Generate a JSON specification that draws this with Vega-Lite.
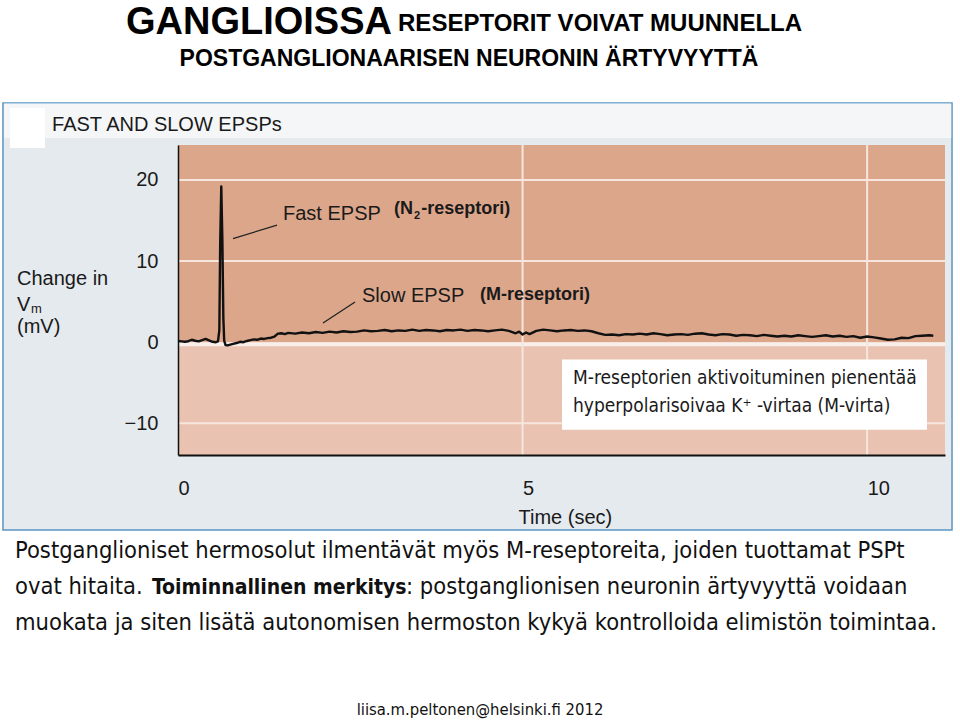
{
  "$schema": "https://vega.github.io/schema/vega-lite/v6.json",
  "width": 767,
  "height": 310,
  "autosize": {"type": "none"},
  "padding": {"left": 178, "top": 145, "right": 15, "bottom": 265},
  "background": "white",
  "config": {"view": {"stroke": null}},
  "encoding": {
    "x": {"field": "t", "type": "quantitative", "scale": {"domain": [0, 11.13], "nice": false, "zero": false},
      "axis": {"values": [0, 5, 10], "labelAlign": "left", "labelBaseline": "top", "labelPadding": 23, "ticks": false, "tickSize": 0,
        "domainColor": "#111", "domainWidth": 2, "labelFont": "Liberation Sans, Arial, sans-serif", "labelFontSize": 20, "labelColor": "#1a1a1a",
        "grid": false, "title": "Time (sec)", "titleFont": "Liberation Sans, Arial, sans-serif", "titleFontSize": 20, "titleFontWeight": "normal", "titleColor": "#1a1a1a",
        "titleX": 340, "titleY": 52, "titleAlign": "left", "titleBaseline": "top", "zindex": 1}},
    "y": {"field": "v", "type": "quantitative", "scale": {"domain": [-13.9, 24.3], "nice": false, "zero": false},
      "axis": {"values": [20, 10, 0, -10], "labelPadding": 20, "ticks": false, "tickSize": 0, "domainColor": "#111", "domainWidth": 1.5,
        "labelFont": "Liberation Sans, Arial, sans-serif", "labelFontSize": 20, "labelColor": "#1a1a1a", "grid": false, "title": null, "zindex": 1}}
  },
  "layer": [
    {
      "data": {"values": [{"t": -2.54, "t2": 11.232, "v": 29.48, "v2": -23.14}]},
      "mark": {"type": "rect", "fill": "#e5eaee", "stroke": "#5a96c3", "strokeWidth": 1.5},
      "encoding": {"x2": {"field": "t2"}, "y2": {"field": "v2"}}
    },
    {
      "data": {"values": [{"t": -2.525, "t2": 11.22, "v": 29.4, "v2": 25.16}]},
      "mark": {"type": "rect", "fill": "#f4f6f8"},
      "encoding": {"x2": {"field": "t2"}, "y2": {"field": "v2"}}
    },
    {
      "data": {"values": [{"t": -2.438, "t2": -1.93, "v": 28.86, "v2": 23.93}]},
      "mark": {"type": "rect", "fill": "#ffffff"},
      "encoding": {"x2": {"field": "t2"}, "y2": {"field": "v2"}}
    },
    {
      "data": {"values": [
        {"zone": "above", "t": 0, "t2": 11.13, "v": 24.3, "v2": 0},
        {"zone": "below", "t": 0, "t2": 11.13, "v": 0, "v2": -13.9}
      ]},
      "mark": {"type": "rect"},
      "encoding": {"x2": {"field": "t2"}, "y2": {"field": "v2"},
        "color": {"field": "zone", "type": "nominal", "scale": {"domain": ["above", "below"], "range": ["#dca68b", "#e9c2b1"]}, "legend": null}}
    },
    {
      "data": {"values": [{"t": 0, "t2": 11.13, "v": 20}, {"t": 0, "t2": 11.13, "v": 10}, {"t": 0, "t2": 11.13, "v": -10}]},
      "mark": {"type": "rule", "color": "#f6e6de", "strokeWidth": 2},
      "encoding": {"x2": {"field": "t2"}}
    },
    {
      "data": {"values": [{"t": 0, "t2": 11.13, "v": -0.25}]},
      "mark": {"type": "rule", "color": "#f8eeea", "strokeWidth": 4},
      "encoding": {"x2": {"field": "t2"}}
    },
    {
      "data": {"values": [{"t": 5, "v": -13.9, "v2": 24.3}, {"t": 10, "v": -13.9, "v2": 24.3}]},
      "mark": {"type": "rule", "color": "#f6e6de", "strokeWidth": 2},
      "encoding": {"y2": {"field": "v2"}}
    },
    {
      "data": {"values": [
        {"t": 0.00, "v": 0.15}, {"t": 0.05, "v": 0.10}, {"t": 0.10, "v": 0.05}, {"t": 0.15, "v": 0.12}, {"t": 0.20, "v": 0.30},
        {"t": 0.25, "v": 0.18}, {"t": 0.30, "v": 0.10}, {"t": 0.35, "v": 0.25}, {"t": 0.40, "v": 0.40}, {"t": 0.45, "v": 0.22},
        {"t": 0.50, "v": 0.05}, {"t": 0.55, "v": 0.00}, {"t": 0.58, "v": 0.10}, {"t": 0.60, "v": 1.5}, {"t": 0.612, "v": 12.0},
        {"t": 0.628, "v": 19.2}, {"t": 0.644, "v": 12.5}, {"t": 0.658, "v": 3.0}, {"t": 0.67, "v": 0.2}, {"t": 0.69, "v": -0.35},
        {"t": 0.72, "v": -0.40}, {"t": 0.76, "v": -0.30}, {"t": 0.80, "v": -0.20}, {"t": 0.85, "v": -0.10}, {"t": 0.90, "v": 0.05},
        {"t": 0.95, "v": 0.00}, {"t": 1.00, "v": 0.15}, {"t": 1.05, "v": 0.25}, {"t": 1.10, "v": 0.35}, {"t": 1.15, "v": 0.30},
        {"t": 1.20, "v": 0.45}, {"t": 1.25, "v": 0.40}, {"t": 1.30, "v": 0.50}, {"t": 1.35, "v": 0.55}, {"t": 1.40, "v": 0.70},
        {"t": 1.45, "v": 1.05}, {"t": 1.50, "v": 1.10}, {"t": 1.55, "v": 1.00}, {"t": 1.60, "v": 1.15}, {"t": 1.70, "v": 1.05},
        {"t": 1.80, "v": 1.20}, {"t": 1.90, "v": 1.10}, {"t": 2.00, "v": 1.25}, {"t": 2.10, "v": 1.15}, {"t": 2.20, "v": 1.30},
        {"t": 2.30, "v": 1.20}, {"t": 2.40, "v": 1.35}, {"t": 2.50, "v": 1.25}, {"t": 2.60, "v": 1.30}, {"t": 2.70, "v": 1.45},
        {"t": 2.80, "v": 1.35}, {"t": 2.90, "v": 1.40}, {"t": 3.00, "v": 1.50}, {"t": 3.10, "v": 1.35}, {"t": 3.20, "v": 1.45},
        {"t": 3.30, "v": 1.40}, {"t": 3.40, "v": 1.55}, {"t": 3.50, "v": 1.40}, {"t": 3.60, "v": 1.50}, {"t": 3.70, "v": 1.45},
        {"t": 3.80, "v": 1.35}, {"t": 3.90, "v": 1.50}, {"t": 4.00, "v": 1.45}, {"t": 4.10, "v": 1.55}, {"t": 4.20, "v": 1.40},
        {"t": 4.30, "v": 1.50}, {"t": 4.40, "v": 1.45}, {"t": 4.50, "v": 1.35}, {"t": 4.60, "v": 1.45}, {"t": 4.70, "v": 1.55},
        {"t": 4.80, "v": 1.40}, {"t": 4.90, "v": 1.10}, {"t": 4.95, "v": 1.30}, {"t": 5.00, "v": 0.95}, {"t": 5.05, "v": 1.20},
        {"t": 5.10, "v": 1.00}, {"t": 5.20, "v": 1.40}, {"t": 5.30, "v": 1.55}, {"t": 5.40, "v": 1.45}, {"t": 5.50, "v": 1.35},
        {"t": 5.60, "v": 1.45}, {"t": 5.70, "v": 1.50}, {"t": 5.80, "v": 1.40}, {"t": 5.90, "v": 1.45}, {"t": 6.00, "v": 1.35},
        {"t": 6.10, "v": 1.10}, {"t": 6.20, "v": 0.90}, {"t": 6.30, "v": 0.95}, {"t": 6.40, "v": 0.85}, {"t": 6.50, "v": 1.00},
        {"t": 6.60, "v": 0.95}, {"t": 6.70, "v": 1.05}, {"t": 6.80, "v": 0.95}, {"t": 6.90, "v": 1.10}, {"t": 7.00, "v": 1.00},
        {"t": 7.10, "v": 0.85}, {"t": 7.20, "v": 0.95}, {"t": 7.30, "v": 1.00}, {"t": 7.40, "v": 0.90}, {"t": 7.50, "v": 1.05},
        {"t": 7.60, "v": 1.10}, {"t": 7.70, "v": 0.95}, {"t": 7.80, "v": 0.85}, {"t": 7.90, "v": 1.00}, {"t": 8.00, "v": 0.95},
        {"t": 8.10, "v": 0.80}, {"t": 8.20, "v": 0.90}, {"t": 8.30, "v": 0.85}, {"t": 8.40, "v": 0.75}, {"t": 8.50, "v": 0.90},
        {"t": 8.60, "v": 0.80}, {"t": 8.70, "v": 0.70}, {"t": 8.80, "v": 0.80}, {"t": 8.90, "v": 0.70}, {"t": 9.00, "v": 0.85},
        {"t": 9.10, "v": 0.75}, {"t": 9.20, "v": 0.65}, {"t": 9.30, "v": 0.75}, {"t": 9.40, "v": 0.85}, {"t": 9.50, "v": 0.70},
        {"t": 9.60, "v": 0.80}, {"t": 9.70, "v": 0.65}, {"t": 9.80, "v": 0.75}, {"t": 9.90, "v": 0.55}, {"t": 10.00, "v": 0.70},
        {"t": 10.10, "v": 0.60}, {"t": 10.20, "v": 0.45}, {"t": 10.30, "v": 0.30}, {"t": 10.40, "v": 0.35}, {"t": 10.50, "v": 0.55},
        {"t": 10.60, "v": 0.50}, {"t": 10.70, "v": 0.75}, {"t": 10.80, "v": 0.80}, {"t": 10.90, "v": 0.85}, {"t": 10.96, "v": 0.80}
      ]},
      "mark": {"type": "line", "color": "#111111", "strokeWidth": 2.4, "strokeJoin": "round"}
    },
    {
      "data": {"values": [
        {"t": 0.798, "v": 12.75, "t2": 1.437, "v2": 14.44},
        {"t": 2.104, "v": 2.37, "t2": 2.569, "v2": 4.95}
      ]},
      "mark": {"type": "rule", "color": "#222", "strokeWidth": 1.3},
      "encoding": {"x2": {"field": "t2"}, "y2": {"field": "v2"}}
    },
    {
      "data": {"values": [
        {"label": "Fast EPSP", "t": 1.524, "v": 15.06},
        {"label": "Slow EPSP", "t": 2.670, "v": 4.95},
        {"label": "FAST AND SLOW EPSPs", "t": -1.828, "v": 26.03},
        {"label": "Change in", "t": -2.336, "v": 7.05},
        {"label": "V", "t": -2.336, "v": 3.84},
        {"label": "(mV)", "t": -2.336, "v": 1.15}
      ]},
      "mark": {"type": "text", "align": "left", "baseline": "alphabetic", "font": "Liberation Sans, Arial, sans-serif", "fontSize": 20, "color": "#1a1a1a"},
      "encoding": {"text": {"field": "label"}}
    },
    {
      "data": {"values": [
        {"label": "m", "t": -2.133, "v": 3.55}
      ]},
      "mark": {"type": "text", "align": "left", "baseline": "alphabetic", "font": "Liberation Sans, Arial, sans-serif", "fontSize": 13, "color": "#1a1a1a"},
      "encoding": {"text": {"field": "label"}}
    },
    {
      "data": {"values": [
        {"label": "(N", "t": 3.134, "v": 15.80},
        {"label": "-reseptori)", "t": 3.53, "v": 15.80},
        {"label": "(M-reseptori)", "t": 4.383, "v": 5.20}
      ]},
      "mark": {"type": "text", "align": "left", "baseline": "alphabetic", "font": "Liberation Sans, Arial, sans-serif", "fontSize": 18, "fontWeight": "bold", "color": "#1a1a1a"},
      "encoding": {"text": {"field": "label"}}
    },
    {
      "data": {"values": [
        {"label": "2", "t": 3.425, "v": 15.2}
      ]},
      "mark": {"type": "text", "align": "left", "baseline": "alphabetic", "font": "Liberation Sans, Arial, sans-serif", "fontSize": 11, "fontWeight": "bold", "color": "#1a1a1a"},
      "encoding": {"text": {"field": "label"}}
    },
    {
      "data": {"values": [{"t": 5.572, "t2": 10.869, "v": -2.14, "v2": -10.79}]},
      "mark": {"type": "rect", "fill": "#ffffff"},
      "encoding": {"x2": {"field": "t2"}, "y2": {"field": "v2"}}
    },
    {
      "data": {"values": [
        {"label": "M-reseptorien aktivoituminen pienentää", "t": 5.732, "v": -5.20},
        {"label": "hyperpolarisoivaa K⁺ -virtaa (M-virta)", "t": 5.732, "v": -8.65}
      ]},
      "mark": {"type": "text", "align": "left", "baseline": "alphabetic", "font": "Liberation Sans Narrow, Arial Narrow, DejaVu Sans Condensed, sans-serif", "fontSize": 19, "color": "#1a1a1a"},
      "encoding": {"text": {"field": "label"}}
    },
    {
      "data": {"values": [{"label": "GANGLIOISSA", "t": 3.105, "v": 38.0}]},
      "mark": {"type": "text", "align": "right", "baseline": "alphabetic", "font": "Liberation Sans, Arial, sans-serif", "fontSize": 38, "fontWeight": "bold", "color": "#000000"},
      "encoding": {"text": {"field": "label"}}
    },
    {
      "data": {"values": [{"label": "RESEPTORIT VOIVAT MUUNNELLA", "t": 3.193, "v": 38.3}]},
      "mark": {"type": "text", "align": "left", "baseline": "alphabetic", "font": "Liberation Sans, Arial, sans-serif", "fontSize": 24, "fontWeight": "bold", "color": "#000000"},
      "encoding": {"text": {"field": "label"}}
    },
    {
      "data": {"values": [{"label": "POSTGANGLIONAARISEN NEURONIN ÄRTYVYYTTÄ", "t": 4.223, "v": 34.03}]},
      "mark": {"type": "text", "align": "center", "baseline": "alphabetic", "font": "Liberation Sans, Arial, sans-serif", "fontSize": 23, "fontWeight": "bold", "color": "#000000"},
      "encoding": {"text": {"field": "label"}}
    },
    {
      "data": {"values": [
        {"label": "Postganglioniset hermosolut ilmentävät myös M-reseptoreita, joiden tuottamat PSPt", "t": -2.365, "v": -26.59},
        {"label": "ovat hitaita.", "t": -2.365, "v": -31.03},
        {"label": ": postganglionisen neuronin ärtyvyyttä voidaan", "t": 3.309, "v": -31.03},
        {"label": "muokata ja siten lisätä autonomisen hermoston kykyä kontrolloida elimistön toimintaa.", "t": -2.365, "v": -35.46}
      ]},
      "mark": {"type": "text", "align": "left", "baseline": "alphabetic", "font": "Liberation Sans Narrow, Arial Narrow, DejaVu Sans Condensed, sans-serif", "fontSize": 23.5, "color": "#111111"},
      "encoding": {"text": {"field": "label"}}
    },
    {
      "data": {"values": [{"label": "Toiminnallinen merkitys", "t": -0.377, "v": -31.03}]},
      "mark": {"type": "text", "align": "left", "baseline": "alphabetic", "font": "Liberation Sans Narrow, Arial Narrow, DejaVu Sans Condensed, sans-serif", "fontSize": 21, "fontWeight": "bold", "color": "#111111"},
      "encoding": {"text": {"field": "label"}}
    },
    {
      "data": {"values": [{"label": "liisa.m.peltonen@helsinki.fi 2012", "t": 4.382, "v": -45.94}]},
      "mark": {"type": "text", "align": "center", "baseline": "alphabetic", "font": "Liberation Sans Narrow, Arial Narrow, DejaVu Sans Condensed, sans-serif", "fontSize": 16.5, "color": "#111111"},
      "encoding": {"text": {"field": "label"}}
    }
  ]
}
